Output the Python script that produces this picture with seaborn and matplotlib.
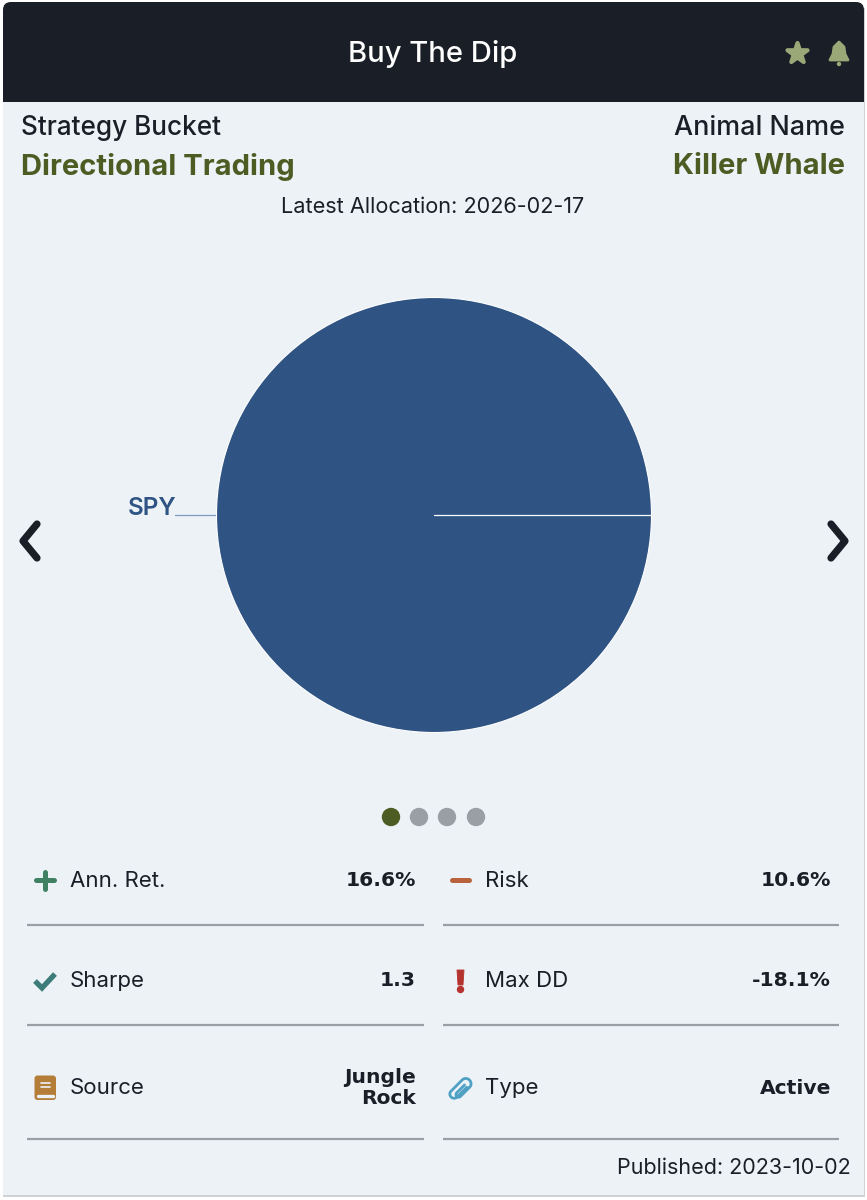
import matplotlib
matplotlib.use("Agg")
import matplotlib.pyplot as plt
from matplotlib.patches import FancyBboxPatch, Rectangle, Polygon, Circle
import numpy as np
import seaborn as sns

# ==========================================================
# DATA
# ==========================================================
strategy_title = "Buy The Dip"
bucket_label = "Strategy Bucket"
bucket_value = "Directional Trading"
animal_label = "Animal Name"
animal_value = "Killer Whale"
allocation_date = "Latest Allocation: 2026-02-17"
published_date = "Published: 2023-10-02"

tickers = ["SPY"]
weights = [100]

left_labels = ["Ann. Ret.", "Sharpe", "Source"]
left_values = ["16.6%", "1.3", "Jungle\nRock"]
right_labels = ["Risk", "Max DD", "Type"]
right_values = ["10.6%", "-18.1%", "Active"]

# ==========================================================
# STYLE
# ==========================================================
sns.set_theme(style="white")
plt.rcParams["font.family"] = ["Inter", "DejaVu Sans"]

INK = "#1a1e27"
OLIVE = "#4b5d23"
CARD = "#edf2f7"
RULE = "#9a9fa5"
ICON_GREEN = "#9aa878"
pie_colors = sns.color_palette(["#2f5483"])

fig = plt.figure(figsize=(8.67, 12), dpi=100, facecolor="white")

# Full page axes in pixel units for the card chrome
page = fig.add_axes([0, 0, 1, 1])
page.set_xlim(0, 867)
page.set_ylim(1200, 0)
page.axis("off")

# Card and its soft bottom shadow
page.add_patch(Rectangle((3, 8), 862, 1189, fc="#cfd2d6", ec="none"))
page.add_patch(Rectangle((3, 8), 861, 1187, fc=CARD, ec="none"))

# Header
page.add_patch(FancyBboxPatch((3, 2), 861, 100, boxstyle="round,pad=0,rounding_size=8", fc=INK, ec="none"))
page.add_patch(Rectangle((3, 60), 861, 42, fc=INK, ec="none"))
page.text(433, 54, strategy_title, color="white", fontsize=21, fontweight="medium", ha="center", va="center")

# Star and bell
page.scatter([797], [53], marker="*", s=230, color=ICON_GREEN, linewidths=3, edgecolors=ICON_GREEN)
page.add_patch(Polygon([(830, 60), (833, 54), (834, 47), (839, 42), (844, 47), (845, 54), (848, 60)], fc=ICON_GREEN, ec=ICON_GREEN, lw=2, joinstyle="round"))
page.add_patch(Circle((839, 64), 2.2, fc=ICON_GREEN, ec="none"))

# Top labels
page.text(21, 128, bucket_label, color=INK, fontsize=18.8, fontweight="medium", ha="left", va="center")
page.text(845, 128, animal_label, color=INK, fontsize=19.4, fontweight="medium", ha="right", va="center")
page.text(21, 167, bucket_value, color=OLIVE, fontsize=21, fontweight="bold", ha="left", va="center")
page.text(845, 167, animal_value, color=OLIVE, fontsize=21, fontweight="bold", ha="right", va="center")
page.text(433, 207, allocation_date, color=INK, fontsize=15.6, ha="center", va="center")
page.text(851, 1168, published_date, color=INK, fontsize=15.5, ha="right", va="center")

# ==========================================================
# ALLOCATION PIE
# ==========================================================
pie_ax = fig.add_axes([(434 - 217.5) / 867, 1 - (515 + 217.5) / 1200, 435 / 867, 435 / 1200])
wedges, _ = pie_ax.pie(
    weights,
    colors=pie_colors,
    startangle=0,
    radius=1,
    wedgeprops={"edgecolor": "white", "linewidth": 0.8},
)
pie_ax.set_xlim(-1, 1)
pie_ax.set_ylim(-1, 1)

# Slice seam, leader line and label follow each wedge's angles
for wedge, ticker in zip(wedges, tickers):
    start = np.deg2rad(wedge.theta1)
    pie_ax.plot([0, np.cos(start)], [0, np.sin(start)], color="white", lw=0.9)
    mid = (wedge.theta1 + wedge.theta2) / 2
    sign = -1 if 90 < mid < 270 else 1
    pie_ax.plot([sign * 1.0, sign * 1.19], [0, 0], color="#7f9aba", lw=0.9, clip_on=False, zorder=0)
    pie_ax.text(sign * 1.185, -0.002, ticker, color=pie_colors[0], fontsize=17.5, fontweight="semibold", ha="right", va="baseline", clip_on=False)

# Carousel arrows
for pts in ([(37, 524), (23, 541), (37, 558)], [(831, 524), (845, 541), (831, 558)]):
    page.plot(*zip(*pts), color=INK, lw=5.2, solid_capstyle="round", solid_joinstyle="round")

# Page dots
page.scatter([391, 419, 447, 476], [817] * 4, s=175, color=[OLIVE, RULE, RULE, RULE], linewidths=0)

# ==========================================================
# METRICS GRID
# ==========================================================
row_y = [881, 981, 1088]
rule_y = [925, 1025, 1139]

for x0, x1, val_x, text_x, labels, values in [
    (27, 424, 416, 70, left_labels, left_values),
    (443, 839, 831, 485, right_labels, right_values),
]:
    for i, (label, value) in enumerate(zip(labels, values)):
        page.text(text_x, row_y[i], label, color=INK, fontsize=16, ha="left", va="center")
        page.text(val_x, row_y[i], value, color=INK, fontsize=14.6, fontweight="bold", ha="right", va="center",
                  linespacing=1.15, family=["DejaVu Sans"])
        page.plot([x0, x1], [rule_y[i], rule_y[i]], color=RULE, lw=1.6, solid_capstyle="butt")

# Metric icons
page.plot([36, 54], [880, 880], color="#3f8162", lw=3.6, solid_capstyle="round")
page.plot([45, 45], [872, 889], color="#3f8162", lw=3.6, solid_capstyle="round")
page.plot([452, 469], [880, 880], color="#b9633c", lw=3.6, solid_capstyle="round")
page.plot([35, 42, 55], [981, 988, 974], color="#3d7c78", lw=3.8, solid_capstyle="butt", solid_joinstyle="miter")
page.add_patch(Polygon([(457, 970), (464, 970), (463, 985), (458, 985)], fc="#b5332f", ec="#b5332f", lw=0.6, joinstyle="round"))
page.add_patch(Circle((460.5, 989.5), 3.7, fc="#b5332f", ec="none"))

# Book
page.add_patch(FancyBboxPatch((34.5, 1075.5), 21.5, 24.5, boxstyle="round,pad=0,rounding_size=3", fc="#b47d38", ec="none"))
page.plot([41, 50], [1083, 1083], color=CARD, lw=1.2)
page.plot([41, 50], [1087, 1087], color=CARD, lw=1.2)
page.plot([37.5, 53], [1095.5, 1095.5], color=CARD, lw=2.4)

# Paper clip, drawn along its own tilted axis
t = np.linspace(0, np.pi, 16)
u = np.concatenate([[5, -6], -6 - 2.6 * np.sin(t), [7], 7 + 5 * np.sin(t), [-9], -9 - 4 * np.sin(t), [5]])
v = np.concatenate([[0, 0], 2.6 - 2.6 * np.cos(t), [5.2], 5.2 * np.cos(t), [-5.2], -5.2 + 4.2 * (1 - np.cos(t)), [3.2]])
page.plot(461 + 0.707 * u + 0.707 * v, 1088.5 - 0.707 * u + 0.707 * v, color="#4fa1c4", lw=2.0,
          solid_joinstyle="round", solid_capstyle="round")

fig.savefig("out.png", dpi=100, facecolor="white")
